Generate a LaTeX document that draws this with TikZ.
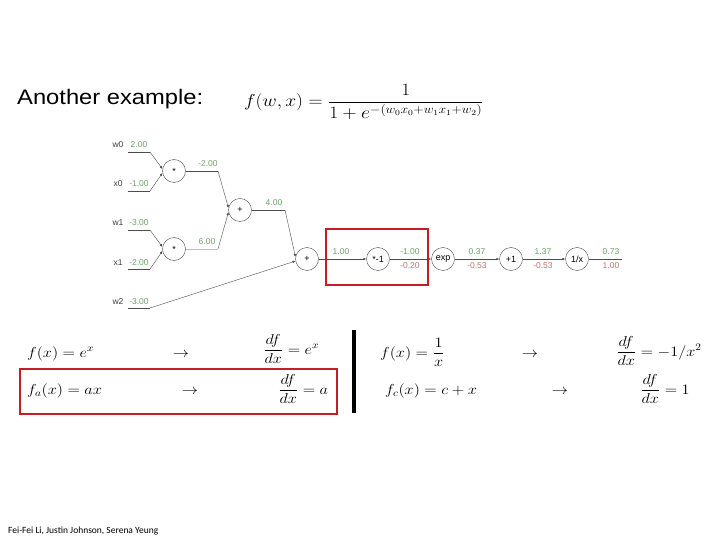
\documentclass[tikz,border=0pt]{standalone}
\usepackage{amsmath}
\usepackage{fontspec}
\setmainfont{Liberation Sans}
\newfontfamily\footfont{Carlito}
\usetikzlibrary{arrows.meta}
\definecolor{valgreen}{RGB}{105,165,105}
\definecolor{gradred}{RGB}{195,115,115}
\definecolor{boxred}{RGB}{195,30,40}
\newcommand{\wide}[1]{\scalebox{1.13}[1]{#1}}
\tikzset{
    gate/.style={circle,draw=black!70,thin,minimum size=23pt,inner sep=0pt,font=\fontsize{9}{10}\selectfont},
    wire/.style={draw=black!70,thin},
    edge/.style={draw=black!70,thin,-{Latex[length=3pt,width=2.5pt]}},
    val/.style={text=valgreen,font=\fontsize{8.5}{10}\selectfont},
    grad/.style={text=gradred,font=\fontsize{8.5}{10}\selectfont},
    inp/.style={text=black!75,font=\fontsize{8.5}{10}\selectfont},
    eqn/.style={anchor=base west,inner sep=0pt,font=\fontsize{14.4}{17}\selectfont},
    arr/.style={anchor=base,inner sep=0pt,font=\fontsize{14.4}{17}\selectfont},
}
\begin{document}
\begin{tikzpicture}[x=1pt,y=-1pt]
    \useasboundingbox[fill=white] (0,0) rectangle (720,540);
    % title
    \node[anchor=base west,inner sep=0pt,font=\fontsize{21}{24}\selectfont] (title) at (17,105) {\wide{Another example:}};
    \node[inner sep=0pt,font=\fontsize{16.5}{19}\selectfont] (sigma) at (364,102) {\wide{$f(w,x)=\dfrac{1}{1+e^{-(w_0x_0+w_1x_1+w_2)}}$}};
    % gates
    \node[gate] (m1) at (174,171) {*};
    \node[gate] (m2) at (174,249) {*};
    \node[gate] (a1) at (240,210) {+};
    \node[gate] (a2) at (307,259) {+};
    \node[gate] (n1) at (378,259) {*-1};
    \node[gate] (e1) at (443,259) {exp};
    \node[gate] (p1) at (511,259) {+1};
    \node[gate] (r1) at (577,259) {1/x};
    % inputs
    \node[inp] (w0) at (118,145) {w0};  \node[val] (w0v) at (139,145) {2.00};
    \node[inp] (x0) at (118,184) {x0};  \node[val] (x0v) at (139,184) {-1.00};
    \node[inp] (w1) at (118,223) {w1};  \node[val] (w1v) at (139,223) {-3.00};
    \node[inp] (x1) at (118,263) {x1};  \node[val] (x1v) at (139,263) {-2.00};
    \node[inp] (w2) at (118,302) {w2};  \node[val] (w2v) at (139,302) {-3.00};
    \coordinate (w0a) at (128,152); \coordinate (w0b) at (150,152);
    \coordinate (x0a) at (128,191); \coordinate (x0b) at (150,191);
    \coordinate (w1a) at (128,230); \coordinate (w1b) at (150,230);
    \coordinate (x1a) at (128,269); \coordinate (x1b) at (150,269);
    \coordinate (w2a) at (128,308); \coordinate (w2b) at (150,308);
    % inner values
    \coordinate (m1o) at (218,171); \node[val] (m1v) at (208,164) {-2.00};
    \coordinate (m2o) at (218,249); \node[val] (m2v) at (207,242) {6.00};
    \coordinate (a1o) at (285,210); \node[val] (a1v) at (274,203) {4.00};
    \node[val] (a2v) at (341,252) {1.00};
    \node[val] (n1v) at (410,252) {-1.00}; \node[grad] (n1g) at (410,266) {-0.20};
    \node[val] (e1v) at (477,252) {0.37};  \node[grad] (e1g) at (477,266) {-0.53};
    \node[val] (p1v) at (543,252) {1.37};  \node[grad] (p1g) at (543,266) {-0.53};
    \node[val] (r1v) at (611,252) {0.73};  \node[grad] (r1g) at (611,266) {1.00};
    \coordinate (out) at (622,259);
    % paths
    \draw[wire] (w0a) -- (w0b); \draw[edge] (w0b) -- (m1.170);
    \draw[wire] (x0a) -- (x0b); \draw[edge] (x0b) -- (m1.190);
    \draw[wire] (w1a) -- (w1b); \draw[edge] (w1b) -- (m2.170);
    \draw[wire] (x1a) -- (x1b); \draw[edge] (x1b) -- (m2.190);
    \draw[wire] (w2a) -- (w2b); \draw[edge] (w2b) -- (a2.190);
    \draw[wire] (m1) -- (m1o); \draw[edge] (m1o) -- (a1.170);
    \draw[wire,black!25] (m2) -- (m2o); \draw[edge] (m2o) -- (a1.190);
    \draw[wire] (a1) -- (a1o); \draw[edge] (a1o) -- (a2.170);
    \draw[edge] (a2) -- (n1);
    \draw[edge] (n1) -- (e1);
    \draw[edge] (e1) -- (p1);
    \draw[edge] (p1) -- (r1);
    \draw[wire] (r1) -- (out);
    \draw[boxred,line width=1.6pt] (326,229) rectangle (428,285);
    % derivatives
    \node[eqn] (fexp) at (27,357) {\wide{$f(x)=e^x$}};
    \node[arr] (arr1) at (181,357) {\wide{$\rightarrow$}};
    \node[eqn] (dexp) at (263,354) {\wide{$\dfrac{df}{dx}=e^x$}};
    \node[eqn] (fa) at (27,394) {\wide{$f_a(x)=ax$}};
    \node[arr] (arr2) at (190,394) {\wide{$\rightarrow$}};
    \node[eqn] (da) at (278,394) {\wide{$\dfrac{df}{dx}=a$}};
    \draw[boxred,line width=1.6pt] (20,369) rectangle (337,414);
    \draw[line width=4pt] (354,330) -- (354,413);
    \node[eqn] (finv) at (380,357) {\wide{$f(x)=\dfrac{1}{x}$}};
    \node[arr] (arr3) at (530,357) {\wide{$\rightarrow$}};
    \node[eqn] (dinv) at (616,356) {\wide{$\dfrac{df}{dx}=-1/x^2$}};
    \node[eqn] (fc) at (385,394) {\wide{$f_c(x)=c+x$}};
    \node[arr] (arr4) at (560,394) {\wide{$\rightarrow$}};
    \node[eqn] (dc) at (640,394) {\wide{$\dfrac{df}{dx}=1$}};
    % footer
    \node[anchor=base west,inner sep=0pt,font=\footfont\fontsize{9.5}{11}\selectfont] (credit) at (8,533) {Fei-Fei Li, Justin Johnson, Serena Yeung};
\end{tikzpicture}
\end{document}
